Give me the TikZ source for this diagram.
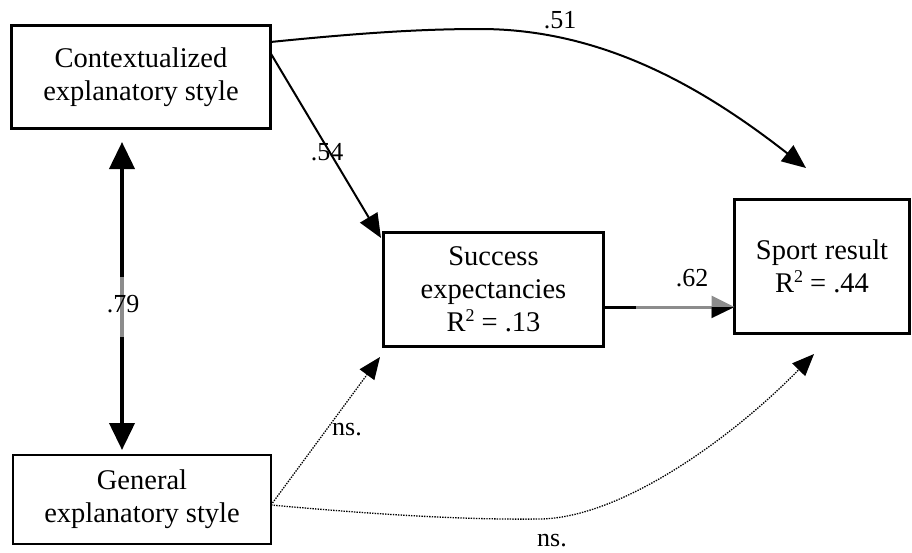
\documentclass[tikz,border=0pt]{standalone}
\usepackage{fontspec}
\setmainfont{Liberation Serif}
\usetikzlibrary{arrows.meta,calc}

\definecolor{midgray}{RGB}{140,140,140}
% small raised exponent used in the R-squared lines
\newcommand{\rsqexp}[1]{\raisebox{10pt}{\fontsize{18}{18}\selectfont #1}}

\begin{document}
\begin{tikzpicture}[x=1pt,y=-1pt,
  varbox/.style={draw=black, line width=3pt, inner sep=0pt, outer sep=0pt,
    align=center, font=\fontsize{28.5}{33}\selectfont},
  coef/.style={inner sep=0pt, font=\fontsize{26}{30}\selectfont},
  solidpath/.style={line width=2pt, -{Triangle[length=24pt,width=20pt]}},
  nspath/.style={line width=1.3pt, dash pattern=on 1.4pt off 1.2pt,
    -{Triangle[length=22pt,width=18pt]}},
  corr/.style={line width=4pt,
    {Triangle[length=27pt,width=25pt]}-{Triangle[length=27pt,width=25pt]}}]

% canvas
\fill[white] (0,0) rectangle (912,552);
\useasboundingbox (0,0) rectangle (912,552);

% variables
\node[varbox, minimum width=259pt, minimum height=103pt] (ce) at (141,77)
  {Contextualized\\explanatory style};
\node[varbox, line width=2pt, minimum width=258pt, minimum height=89pt] (ge) at (142,499.5)
  {General\\explanatory style};
\node[varbox, minimum width=220pt, minimum height=114pt] (se) at (493.5,289.5)
  {Success\\expectancies\\R\rsqexp{2} = .13};
\node[varbox, minimum width=175pt, minimum height=134pt] (sr) at (822,266.5)
  {Sport result\\R\rsqexp{2} = .44};

% connector end points
\coordinate (c51) at ([yshift=35pt]ce.east);
\coordinate (t51) at ([xshift=-16pt,yshift=31.5pt]sr.north);
\coordinate (c54) at ([yshift=24pt]ce.east);
\coordinate (t54) at ([xshift=-2.5pt,yshift=-5.5pt]se.north west);
\coordinate (d1) at ([xshift=-19pt,yshift=-13.5pt]ce.south);
\coordinate (d2) at ([xshift=-20pt,yshift=5pt]ge.north);
\coordinate (p1) at ([yshift=-17.5pt]se.east);
\coordinate (p2) at ([yshift=-40.5pt]sr.west);
\coordinate (g0) at ([yshift=-5.5pt]ge.east);
\coordinate (tn1) at ([xshift=-3.5pt,yshift=-10.5pt]se.south west);
\coordinate (tn2) at ([xshift=-8pt,yshift=-20.5pt]sr.south);

% correlation between the two explanatory styles
\draw[corr] (d1) -- (d2);
\draw[midgray, line width=4pt] ($(d1)!0.438!(d2)$) -- ($(d1)!0.633!(d2)$);
\node[coef] (l79) at (123,304) {.79};

% contextualized style -> sport result
\draw[solidpath] (c51) .. controls (360,33) and (420,29) .. (480,29)
  .. controls (600,29) and (700,85) .. (t51);
\node[coef] (l51) at (560,20) {.51};

% contextualized style -> success expectancies
\draw[solidpath] (c54) -- (t54);
\node[coef] (l54) at (327,152) {.54};

% success expectancies -> sport result
\draw[midgray, line width=3pt, -{Triangle[length=23pt,width=22pt]}] (p1) -- (p2);
\draw[black, line width=3pt] (p1) -- ($(p1)!0.245!(p2)$);
\fill[black] (p2) -- ++(-23,0) -- ++(0,11) -- cycle;
\node[coef] (l62) at (692,278) {.62};

% non-significant paths from the general style
\draw[nspath] (g0) -- (tn1);
\node[coef] (ln1) at (347,430) {ns.};
\draw[nspath] (g0) .. controls (380,515) and (470,520) .. (540,519)
  .. controls (620,518) and (730,440) .. (tn2);
\node[coef] (ln2) at (552,541) {ns.};

\end{tikzpicture}
\end{document}
